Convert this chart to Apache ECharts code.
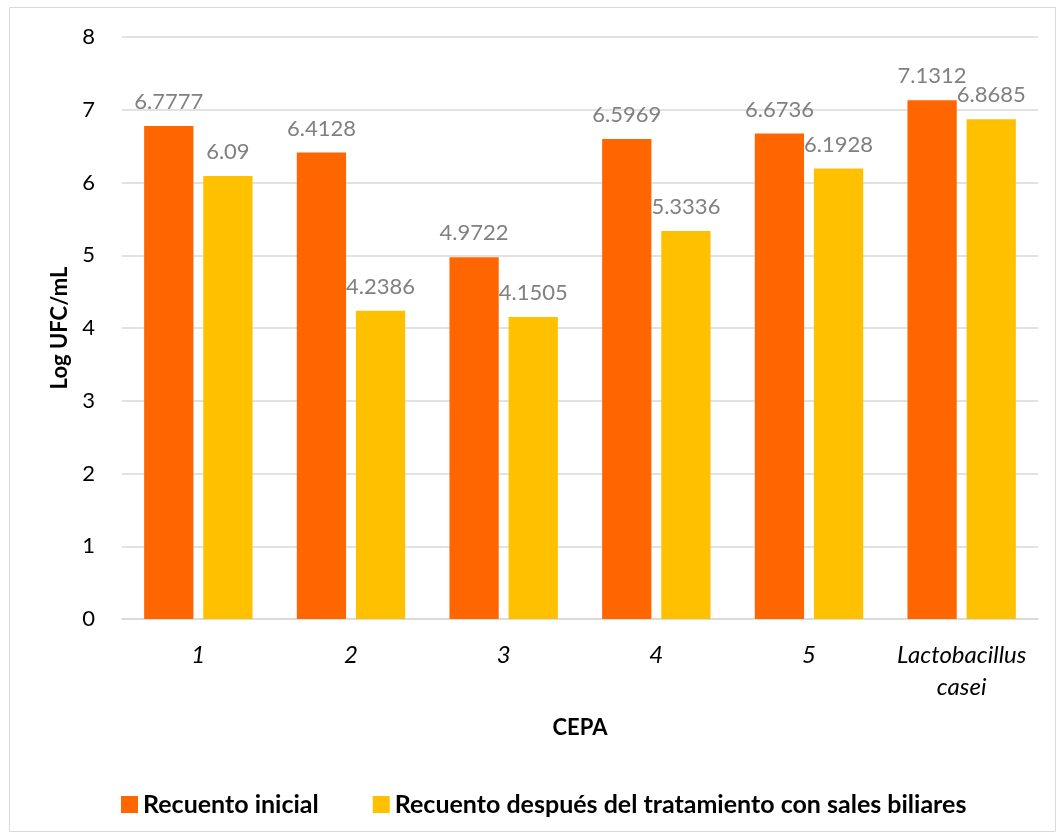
<!DOCTYPE html>
<html><head><meta charset="utf-8">
<script src="https://cdn.jsdelivr.net/npm/echarts@6/dist/echarts.min.js"></script>
<style>html,body{margin:0;padding:0;background:#fff}#c{width:1059px;height:834px}</style>
</head><body><div id="c"></div>
<script>
const categories = ['1', '2', '3', '4', '5', 'Lactobacillus\ncasei'];
const seriesNames = ['Recuento inicial', 'Recuento después del tratamiento con sales biliares'];
const inicial = [6.7777, 6.4128, 4.9722, 6.5969, 6.6736, 7.1312];
const despues = [6.09, 4.2386, 4.1505, 5.3336, 6.1928, 6.8685];
const yTicks = [0, 1, 2, 3, 4, 5, 6, 7, 8];

const font = 'Lato, "Open Sans", sans-serif';
const chart = echarts.init(document.getElementById('c'));
const labelCfg = { show: true, position: 'top', distance: 13, color: '#808080', fontSize: 22, fontFamily: font,
  formatter: p => String(p.value) };
chart.setOption({
  animation: false,
  graphic: [{ type: 'rect', shape: { x: 9.5, y: 7.5, width: 1046, height: 824 },
    style: { fill: 'none', stroke: '#d9d9d9', lineWidth: 1 } }],
  grid: { left: 122, right: 21, top: 37, bottom: 215 },
  legend: {
    top: 787, left: 116, itemWidth: 17, itemHeight: 17, itemGap: 54,
    icon: 'rect',
    textStyle: { fontSize: 25, fontWeight: 'bold', color: '#000', fontFamily: font },
    data: seriesNames
  },
  xAxis: {
    type: 'category', data: categories,
    name: 'CEPA', nameLocation: 'middle', nameGap: 98,
    nameTextStyle: { fontSize: 22, fontWeight: 'bold', color: '#000', fontFamily: font },
    axisTick: { show: false },
    axisLine: { lineStyle: { color: '#d9d9d9', width: 1.5 } },
    axisLabel: { fontSize: 24, fontStyle: 'italic', color: '#000', fontFamily: font, margin: 20, lineHeight: 32, interval: 0 }
  },
  yAxis: {
    type: 'value', min: yTicks[0], max: yTicks[yTicks.length - 1], interval: 1,
    name: 'Log UFC/mL', nameLocation: 'middle', nameGap: 48, nameRotate: 90,
    nameTextStyle: { fontSize: 22, fontWeight: 'bold', color: '#000', fontFamily: font },
    axisLine: { show: false }, axisTick: { show: false },
    splitLine: { lineStyle: { color: '#d9d9d9', width: 1.5 } },
    axisLabel: { fontSize: 22, color: '#000', fontFamily: font, margin: 27 }
  },
  series: [
    { name: seriesNames[0], type: 'bar', data: inicial, itemStyle: { color: '#FF6600' },
      barGap: '20%', barCategoryGap: '29%', label: labelCfg },
    { name: seriesNames[1], type: 'bar', data: despues, itemStyle: { color: '#FFC000' },
      barGap: '20%', barCategoryGap: '29%', label: labelCfg }
  ]
});
</script></body></html>
